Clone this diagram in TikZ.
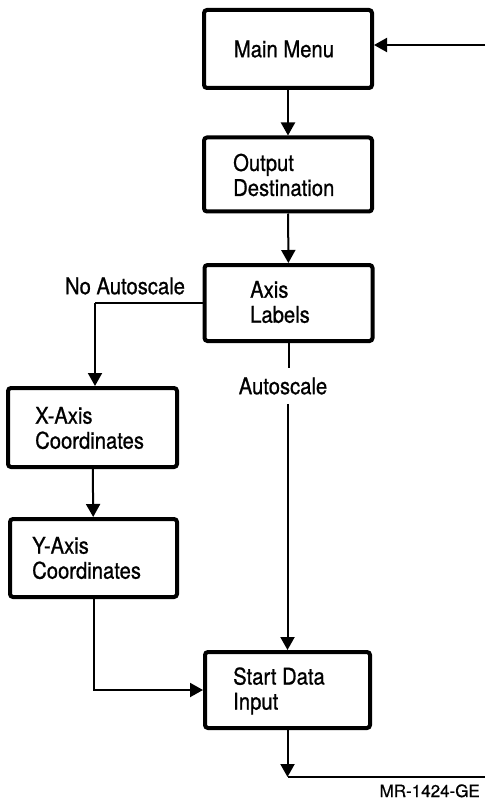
\documentclass[tikz,border=0pt]{standalone}
\usepackage{fontspec}
\setmainfont{TeX Gyre Heros}
\newfontfamily\diagfont[FakeStretch=0.88,FakeBold=0.8]{TeX Gyre Heros}
\newfontfamily\codefont[FakeBold=0.6]{TeX Gyre Heros}
\usetikzlibrary{arrows.meta}
\begin{document}
\begin{tikzpicture}[x=1pt,y=-1pt,
  box/.style={draw,line width=4pt,rounded corners=3pt,minimum width=168pt,minimum height=76pt,inner sep=0pt},
  txt/.style={anchor=west,inner sep=0pt,align=left,font=\diagfont\fontsize{23}{25}\selectfont},
  lbl/.style={inner sep=0pt,font=\diagfont\fontsize{23}{25}\selectfont},
  conn/.style={line width=2pt},
  arr/.style={conn,-{Triangle[width=14pt,length=13pt]}}]
\useasboundingbox (0,0) rectangle (485,802);
% boxes
\node[box,minimum height=78pt] (main) at (288,49) {};
\node[box,minimum height=74pt] (out) at (288,174.5) {};
\node[box] (axis) at (288.5,303) {};
\node[box,minimum width=169pt,minimum height=79pt] (xax) at (92.5,427.5) {};
\node[box,minimum width=167pt,minimum height=78pt] (yax) at (93.5,558) {};
\node[box,minimum width=165pt] (start) at (287.5,690) {};
% texts
\node[lbl] (tmain) at (284,49) {Main Menu};
\node[txt] (tout) at (233,175) {Output\\Destination};
\node[txt] (taxis) at (250,302) {Axis\\Labels};
\node[txt] (txax) at (35,428) {X-Axis\\Coordinates};
\node[txt] (tyax) at (32,558) {Y-Axis\\Coordinates};
\node[txt] (tstart) at (233,691) {Start Data\\Input};
\node[lbl] (noas) at (125,286) {No Autoscale};
\node[lbl,inner ysep=9pt] (asl) at (283,386) {Autoscale};
\node[lbl,anchor=base east,font=\codefont\fontsize{17}{18}\selectfont] (mr) at (480,797) {MR-1424-GE};
% coordinates
\coordinate (rin) at (485,45);
\coordinate (bend) at (287.5,777);
\coordinate (rend) at (485,777);
\coordinate (nbend) at (95,303);
% connectors
\draw[arr] (rin) -- (rin -| main.east);
\draw[arr] (main) -- (out);
\draw[arr] (out) -- (axis);
\draw[conn] (axis.west) -- (nbend);
\draw[arr] (nbend) -- (nbend |- xax.north);
\draw[arr] (xax) -- (yax);
\draw[conn] (axis.south) -- (axis.south |- asl.north);
\draw[arr] (asl.south -| start.north) -- (start.north);
\draw[arr] (yax.south) |- (start.west);
\draw[arr] (start) -- (bend);
\draw[conn] (bend) -- (rend);
\end{tikzpicture}
\end{document}
